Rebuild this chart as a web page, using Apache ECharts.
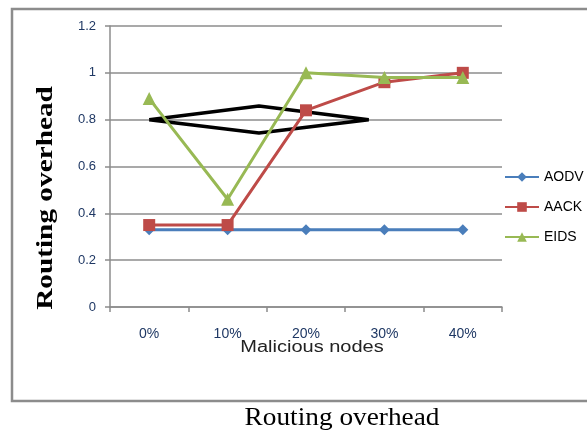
<!DOCTYPE html>
<html>
<head>
<meta charset="utf-8">
<script src="https://cdn.jsdelivr.net/npm/echarts@6/dist/echarts.min.js"></script>
<style>
  html, body { margin: 0; padding: 0; background: #fff; }
  #chart { width: 587px; height: 434px; }
</style>
</head>
<body>
<div id="chart"></div>
<script>
const categories = ['0%', '10%', '20%', '30%', '40%']
const aodv = [0.33, 0.33, 0.33, 0.33, 0.33]
const aack = [0.35, 0.35, 0.84, 0.96, 1.0]
const eids = [0.89, 0.46, 1.0, 0.98, 0.98]
// hand drawn diamond annotation, x in category index units
const sketchX = [0, 1.4, 2.8, 1.4, 0]
const sketchY = [0.8, 0.858, 0.8, 0.743, 0.8]

const chart = echarts.init(document.getElementById('chart'))

const serif = '"Liberation Serif", "DejaVu Serif", serif'
const sans = 'Liberation Sans, Arial, sans-serif'

const option = {
  animation: false,
  backgroundColor: '#fff',
  graphic: [
    {
      type: 'rect',
      shape: { x: 12, y: 9, width: 600, height: 392 },
      style: { fill: 'none', stroke: '#8c8c8c', lineWidth: 2.5 }
    },
    {
      type: 'text',
      x: 342,
      y: 418,
      scaleX: 1.05,
      style: {
        text: 'Routing overhead',
        align: 'center',
        verticalAlign: 'middle',
        font: '26px ' + serif,
        fill: '#000'
      }
    },
    {
      // y axis title, stretched like the source image
      type: 'text',
      x: 46,
      y: 198,
      rotation: Math.PI / 2,
      scaleX: 1.22,
      style: {
        text: 'Routing overhead',
        align: 'center',
        verticalAlign: 'middle',
        font: 'bold 24px ' + serif,
        fill: '#000'
      }
    },
    {
      // x axis title
      type: 'text',
      x: 312,
      y: 348,
      scaleX: 1.25,
      style: {
        text: 'Malicious nodes',
        align: 'center',
        verticalAlign: 'middle',
        font: '16px ' + sans,
        fill: '#222'
      }
    }
  ],
  grid: { left: 110, right: 85, top: 26, bottom: 127 },
  legend: {
    orient: 'vertical',
    left: 504,
    top: 170,
    padding: 0,
    itemGap: 16,
    itemWidth: 34,
    itemHeight: 12,
    textStyle: { fontSize: 14, color: '#000', fontFamily: sans },
    data: ['AODV', 'AACK', 'EIDS']
  },
  xAxis: [
    {
      type: 'category',
      data: categories,
      boundaryGap: true,
      axisLine: { lineStyle: { color: '#8c8c8c', width: 1.5 } },
      axisTick: { show: true, length: 5, lineStyle: { color: '#8c8c8c', width: 1.5 } },
      axisLabel: { fontSize: 14, color: '#1f3864', margin: 20, fontFamily: sans }
    },
    {
      type: 'value',
      min: -0.5,
      max: 4.5,
      show: false
    }
  ],
  yAxis: {
    type: 'value',
    min: 0,
    max: 1.2,
    interval: 0.2,
    axisLine: { show: true, onZero: false, lineStyle: { color: '#8c8c8c', width: 1.5 } },
    axisTick: { show: true, length: 5, lineStyle: { color: '#8c8c8c', width: 1.5 } },
    splitLine: { lineStyle: { color: '#8c8c8c', width: 1.5 } },
    axisLabel: {
      fontSize: 13, color: '#1f3864', margin: 14,
      fontFamily: sans,
      formatter: v => String(parseFloat(v.toFixed(1)))
    }
  },
  series: [
    {
      name: 'sketch',
      type: 'line',
      xAxisIndex: 1,
      data: sketchX.map((x, i) => [x, sketchY[i]]),
      symbol: 'none',
      lineStyle: { color: '#000', width: 3.5 },
      silent: true,
      z: 1
    },
    {
      name: 'AODV',
      type: 'line',
      data: aodv,
      symbol: 'diamond',
      symbolSize: 11,
      color: '#4a7ebb',
      lineStyle: { width: 3 },
      z: 3
    },
    {
      name: 'AACK',
      type: 'line',
      data: aack,
      symbol: 'rect',
      symbolSize: 12,
      color: '#be4b48',
      lineStyle: { width: 3 },
      z: 4
    },
    {
      name: 'EIDS',
      type: 'line',
      data: eids,
      symbol: 'triangle',
      symbolSize: 13,
      color: '#98b954',
      lineStyle: { width: 3 },
      z: 5
    }
  ]
}

chart.setOption(option)
</script>
</body>
</html>
